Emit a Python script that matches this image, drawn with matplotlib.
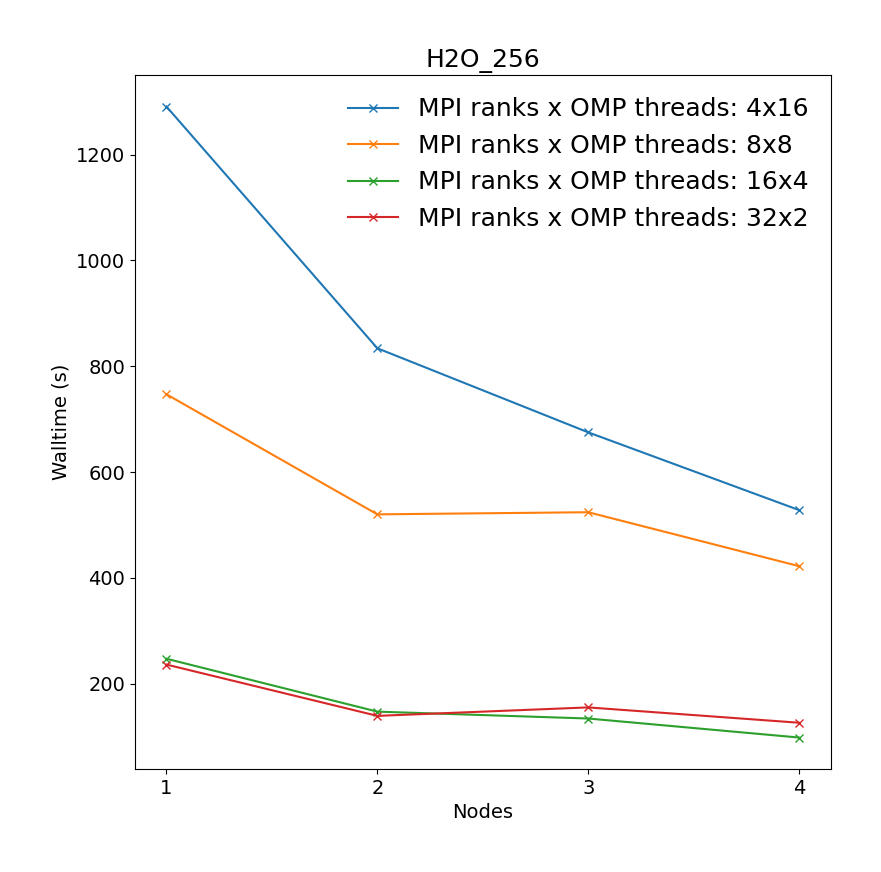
import matplotlib
matplotlib.use("Agg")
import matplotlib.pyplot as plt

nodes = [1, 2, 3, 4]
walltime_4x16 = [1291, 834, 675, 528]
walltime_8x8 = [747, 520, 524, 422]
walltime_16x4 = [247, 147, 134, 98]
walltime_32x2 = [236, 139, 155, 126]
labels = ["4x16", "8x8", "16x4", "32x2"]

fig = plt.figure(figsize=(8.81, 8.72), dpi=100)
ax = fig.add_axes([0.153, 0.118, 0.79, 0.796])

for vals, lab in zip([walltime_4x16, walltime_8x8, walltime_16x4, walltime_32x2], labels):
    ax.plot(nodes, vals, marker="x", label=f"MPI ranks x OMP threads: {lab}")

ax.set_xticks(nodes)
ax.tick_params(labelsize=14)
ax.set_xlabel("Nodes", fontsize=14)
ax.set_ylabel("Walltime (s)", fontsize=14)
ax.set_title("H2O_256", fontsize=18)
ax.legend(fontsize=18, frameon=False, loc="upper right")

fig.savefig("out.png", dpi=100)
